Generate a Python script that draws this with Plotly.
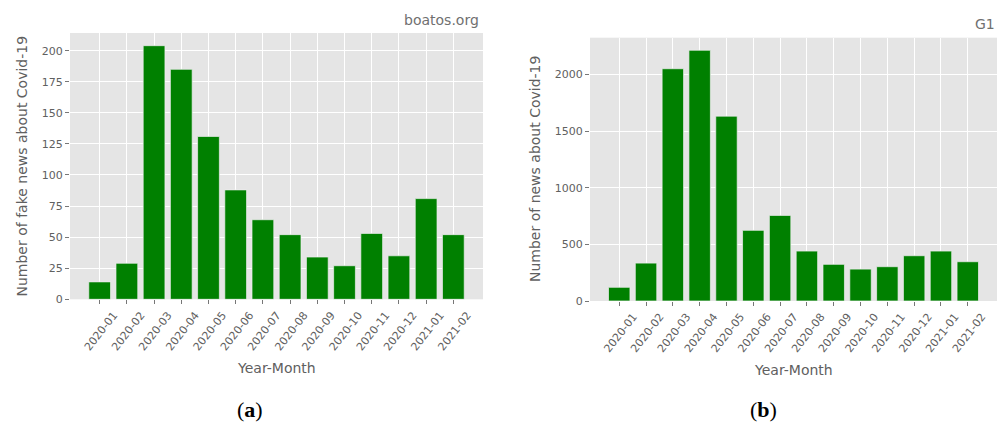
import plotly.graph_objects as go

months = ["2020-01", "2020-02", "2020-03", "2020-04", "2020-05", "2020-06", "2020-07",
          "2020-08", "2020-09", "2020-10", "2020-11", "2020-12", "2021-01", "2021-02"]
fake_news_boatos = [14, 29, 204, 185, 131, 88, 64, 52, 34, 27, 53, 35, 81, 52]
news_g1 = [121, 335, 2052, 2215, 1633, 624, 756, 441, 324, 282, 303, 400, 441, 347]

ticks_a = [0, 25, 50, 75, 100, 125, 150, 175, 200]
ticks_b = [0, 500, 1000, 1500, 2000]

W, H = 1003, 425
BG = "#E5E5E5"
TXT = "#606060"
FONT = "DejaVu Sans"

def px_x(v):
    return v / W

def px_y(v):
    return 1 - v / H

fig = go.Figure()
fig.add_trace(go.Bar(x=months, y=fake_news_boatos, xaxis="x", yaxis="y",
                     marker=dict(color="#008000", line=dict(color="#EEEEEE", width=0.7)),
                     width=0.8, showlegend=False))
fig.add_trace(go.Bar(x=months, y=news_g1, xaxis="x2", yaxis="y2",
                     marker=dict(color="#008000", line=dict(color="#EEEEEE", width=0.7)),
                     width=0.8, showlegend=False))

common_x = dict(type="category", categoryorder="array", categoryarray=months,
                range=[-1.09, 14.09], showgrid=True, gridcolor="white", gridwidth=1,
                ticks="outside", ticklen=4, tickcolor="#777777", tickwidth=1,
                tickangle=-52, tickfont=dict(family=FONT, size=11, color=TXT),
                ticklabelshift=14, automargin=False,
                zeroline=False, showline=False, fixedrange=True)
common_y = dict(showgrid=True, gridcolor="white", gridwidth=1,
                ticks="outside", ticklen=4, tickcolor="#777777", tickwidth=1,
                tickfont=dict(family=FONT, size=11, color=TXT), automargin=False,
                zeroline=False, showline=False, fixedrange=True)

fig.update_layout(
    width=W, height=H,
    margin=dict(l=0, r=0, t=0, b=0, autoexpand=False),
    paper_bgcolor="white",
    plot_bgcolor=BG,
    bargap=0.2,
    xaxis=dict(common_x, domain=[px_x(70), px_x(483)], anchor="y"),
    yaxis=dict(common_y, domain=[px_y(299.3), px_y(33)], anchor="x",
               range=[0, 214.2], tickvals=ticks_a),
    xaxis2=dict(common_x, domain=[px_x(590), px_x(997)], anchor="y2"),
    yaxis2=dict(common_y, domain=[px_y(301), px_y(37.7)], anchor="x2",
                range=[0, 2326], tickvals=ticks_b),
)

def label(text, x, y, size=14, angle=0, xanchor="center", family=FONT, color=TXT):
    fig.add_annotation(text=text, x=px_x(x), y=px_y(y), xref="paper", yref="paper",
                       showarrow=False, textangle=angle, xanchor=xanchor, yanchor="middle",
                       font=dict(family=family, size=size, color=color))

label("Number of fake news about Covid-19", 21.5, 166, angle=-90)
label("Number of news about Covid-19", 535, 169, angle=-90)
label("Year-Month", 276.5, 368)
label("Year-Month", 793.5, 370)
label("boatos.org", 481, 20, xanchor="right", color="#707070")
label("G1", 997, 24, xanchor="right", color="#707070")
label("(<b>a</b>)", 250, 409, size=22, family="Liberation Serif", color="black")
label("(<b>b</b>)", 763, 409, size=22, family="Liberation Serif", color="black")

fig.write_html("out.html")
